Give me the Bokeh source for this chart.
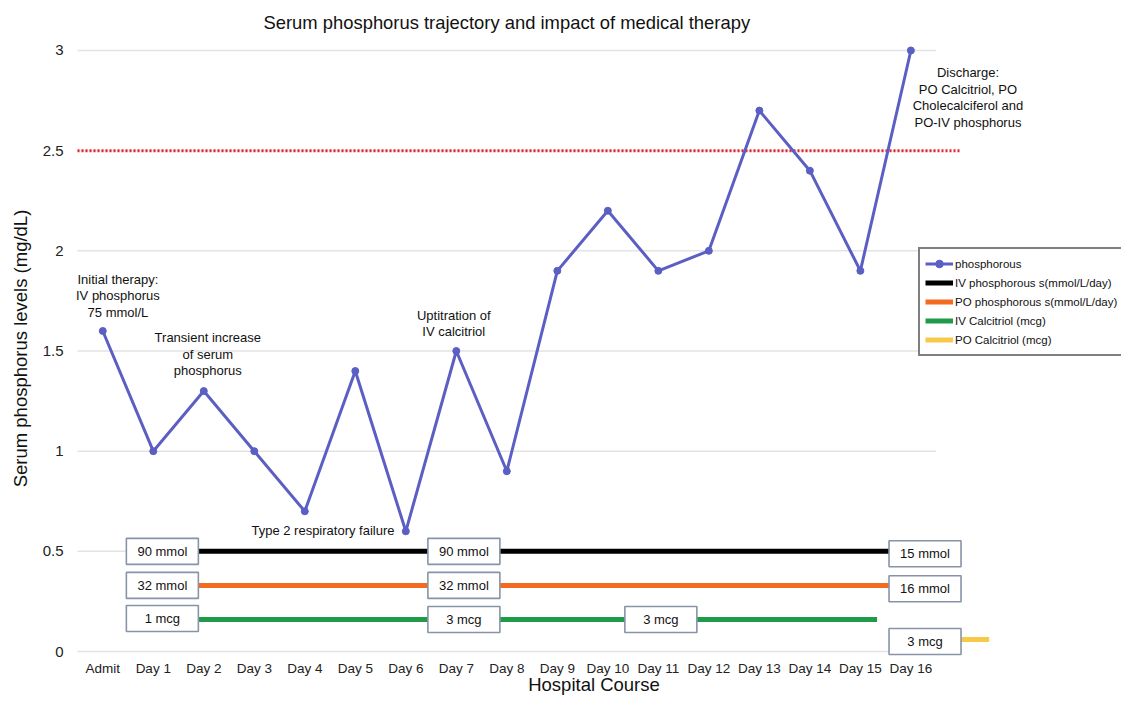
from bokeh.plotting import figure
from bokeh.models import FixedTicker, Legend, LegendItem, Range1d, NumeralTickFormatter
from bokeh.embed import file_html
from bokeh.resources import INLINE
from bokeh.core.properties import value

# ---------------- data ----------------
days = ["Admit"] + [f"Day {i}" for i in range(1, 17)]
day_idx = list(range(len(days)))
phosphorus = [1.6, 1.0, 1.3, 1.0, 0.7, 1.4, 0.6, 1.5, 0.9, 1.9, 2.2, 1.9, 2.0, 2.7, 2.4, 1.9, 3.0]
y_ticks = [0, 0.5, 1, 1.5, 2, 2.5, 3]
threshold = 2.5

therapy_names = ["IV phosphorous s(mmol/L/day)", "PO phosphorous s(mmol/L/day)",
                 "IV Calcitriol (mcg)", "PO Calcitriol (mcg)"]
therapy_start = [1.0, 1.0, 1.0, 16.3]
therapy_end = [15.7, 15.7, 15.33, 17.55]
therapy_level = [0.5, 0.33, 0.16, 0.06]

dose_labels = ["90 mmol", "32 mmol", "1 mcg", "90 mmol", "32 mmol", "3 mcg",
               "3 mcg", "15 mmol", "16 mmol", "3 mcg"]
dose_day = [1.18, 1.18, 1.18, 7.15, 7.15, 7.15, 11.05, 16.28, 16.28, 16.28]
dose_level = [0.5, 0.33, 0.165, 0.5, 0.33, 0.16, 0.16, 0.488, 0.313, 0.05]

notes = ["Initial therapy:\nIV phosphorus\n75 mmol/L",
         "Transient increase\nof serum\nphosphorus",
         "Uptitration of\nIV calcitriol",
         "Type 2 respiratory failure",
         "Discharge:\nPO Calcitriol, PO\nCholecalciferol and\nPO-IV phosphorus"]
note_x = [0.30, 2.08, 6.95, 4.36, 17.13]
note_y = [1.776, 1.483, 1.637, 0.602, 2.766]

# ---------------- style ----------------
FONT = "Liberation Sans"
BLUE = "#5b5fc4"
therapy_colors = ["#000000", "#f26b21", "#1f9a48", "#f7c948"]

p = figure(width=1121, height=697, output_backend="svg", toolbar_location=None,
           x_range=Range1d(-0.718, 20.17), y_range=Range1d(-0.0348, 3.0597),
           min_border_left=66, min_border_right=0, min_border_top=38, min_border_bottom=37,
           title="Serum phosphorus trajectory and impact of medical therapy")
p.outline_line_color = None
p.xgrid.visible = False
p.ygrid.visible = False

p.title.text_font = FONT
p.title.text_font_size = "18.4px"
p.title.text_font_style = "normal"
p.title.align = "left"
p.title.offset = 197
p.title.standoff = 10
p.title.vertical_align = "middle"
p.title.text_color = "#111111"

# axes
p.xaxis.ticker = FixedTicker(ticks=day_idx)
p.xaxis.major_label_overrides = {i: d for i, d in enumerate(days)}
p.yaxis.ticker = FixedTicker(ticks=y_ticks)
p.yaxis.formatter = NumeralTickFormatter(format="0.[0]")
for ax in (p.xaxis[0], p.yaxis[0]):
    ax.axis_line_color = None
    ax.major_tick_line_color = None
    ax.minor_tick_line_color = None
    ax.major_tick_out = 0
    ax.major_tick_in = 0
    ax.minor_tick_out = 0
    ax.minor_tick_in = 0
    ax.major_label_text_font = FONT
    ax.axis_label_text_font = FONT
    ax.axis_label_text_font_style = "normal"
    ax.axis_label_text_font_size = "18.5px"
    ax.major_label_text_color = "#222222"
    ax.axis_label_text_color = "#111111"
p.xaxis.major_label_text_font_size = "13.5px"
p.yaxis.major_label_text_font_size = "15px"
p.xaxis.axis_label = "Hospital Course"
p.yaxis.axis_label = "Serum phosphorus levels (mg/dL)"
p.xaxis.major_label_standoff = 2
p.xaxis.axis_label_standoff = -5
p.yaxis.major_label_standoff = 3
p.yaxis.axis_label_standoff = 9

# grid lines drawn over the category span only
p.segment(x0=[-0.5] * len(y_ticks), x1=[16.5] * len(y_ticks), y0=y_ticks, y1=y_ticks,
          line_color="#e3e3e3", line_width=1.5)

# threshold
p.segment(x0=[-0.5], x1=[17.0], y0=[threshold], y1=[threshold],
          line_color="#e3262b", line_width=3, line_dash="2 2")

# therapy lines
therapy_renderers = []
for name, s, e, lvl, c in zip(therapy_names, therapy_start, therapy_end, therapy_level, therapy_colors):
    r = p.segment(x0=[s], x1=[e], y0=[lvl], y1=[lvl], line_color=c, line_width=5)
    therapy_renderers.append(r)

# dose boxes
p.rect(x=dose_day, y=dose_level, width=72, height=26, width_units="screen", height_units="screen",
       fill_color="white", line_color="#8893a8", line_width=1.6)
p.text(x=dose_day, y=dose_level, text=dose_labels, text_align="center", text_baseline="middle",
       text_font=value(FONT), text_font_size="13px", text_color="#111111")

# phosphorus trajectory
lr = p.line(day_idx, phosphorus, line_color=BLUE, line_width=3)
sr = p.scatter(day_idx, phosphorus, size=7, fill_color=BLUE, line_color=BLUE)

# annotations
p.text(x=note_x, y=note_y, text=notes, text_align="center", text_baseline="middle",
       text_font=value(FONT), text_font_size="13px", text_color="#111111", text_line_height=1.1)

# legend
items = [LegendItem(label="phosphorous", renderers=[lr, sr])]
for name, r in zip(therapy_names, therapy_renderers):
    items.append(LegendItem(label=name, renderers=[r]))
legend = Legend(items=items, location=(852, 302), orientation="vertical",
                glyph_width=28, glyph_height=19, label_height=19, label_standoff=2,
                spacing=0, padding=5, margin=0,
                label_text_font=FONT, label_text_font_size="11.5px", label_text_color="#111111",
                border_line_color="black", border_line_width=2,
                background_fill_color="white", background_fill_alpha=1.0)
p.add_layout(legend, "center")

open("out.html", "w").write(file_html(p, INLINE))
